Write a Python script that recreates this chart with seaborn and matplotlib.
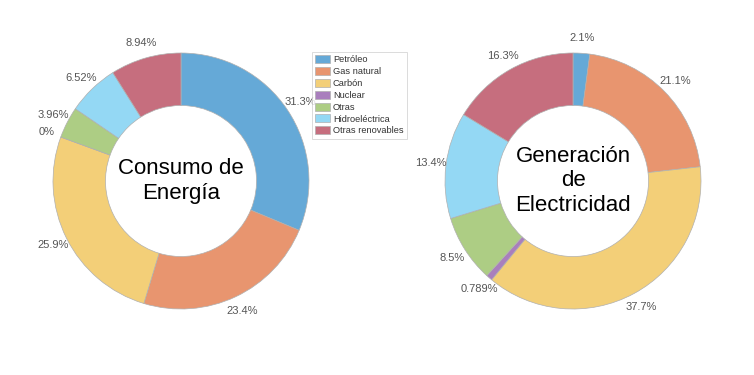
import matplotlib
matplotlib.use("Agg")
import numpy as np
import matplotlib.pyplot as plt
import seaborn as sns

# Data
fuentes = ["Petróleo", "Gas natural", "Carbón", "Nuclear", "Otras",
           "Hidroeléctrica", "Otras renovables"]
consumo = [31.3, 23.4, 25.9, 0.0, 3.96, 6.52, 8.94]
consumo_lbl = ["31.3%", "23.4%", "25.9%", "0%", "3.96%", "6.52%", "8.94%"]
generacion = [2.1, 21.1, 37.7, 0.789, 8.5, 13.4, 16.3]
generacion_lbl = ["2.1%", "21.1%", "37.7%", "0.789%", "8.5%", "13.4%", "16.3%"]
colores = ["#65a9d7", "#e8956f", "#f3cf78", "#a97fbd", "#adcd84", "#94d8f4", "#c66e7e"]

sns.set_style("white")
plt.rcParams["font.family"] = ["Liberation Sans", "DejaVu Sans"]

fig = plt.figure(figsize=(7.54, 3.75), dpi=100)


def donut(rect, values, labels, title):
    ax = fig.add_axes(rect)
    wedges, _ = ax.pie(values, colors=colores, startangle=90, counterclock=False,
                       wedgeprops=dict(width=0.41, edgecolor="#b0b0b0", linewidth=0.5))
    total = sum(values)
    acc = 0
    for v, lbl in zip(values, labels):
        mid = (acc + v / 2) / total * 2 * np.pi
        acc += v
        r = 1.12
        ax.text(r * np.sin(mid), r * np.cos(mid), lbl, ha="center", va="center",
                fontsize=8, color="#555555")
    ax.text(0, 0, title, ha="center", va="center", fontsize=16, color="black",
            linespacing=1.2)
    ax.set_xlim(-1, 1)
    ax.set_ylim(-1, 1)
    ax.set_aspect("equal")
    ax.axis("off")
    return wedges


W, H = 754, 375
R = 128
wl = donut([(181 - R) / W, (H - 181 - R) / H, 2 * R / W, 2 * R / H],
           consumo, consumo_lbl, "Consumo de\nEnergía")
donut([(573 - R) / W, (H - 181 - R) / H, 2 * R / W, 2 * R / H],
      generacion, generacion_lbl, "Generación\nde\nElectricidad")

leg = fig.legend(wl, fuentes, loc="upper left", bbox_to_anchor=(312 / W, 1 - 52 / H),
                 fontsize=6.7, frameon=True, fancybox=False, borderaxespad=0,
                 handlelength=1.6, handleheight=0.95, labelspacing=0.28,
                 handletextpad=0.3, borderpad=0.35)
leg.get_frame().set_edgecolor("#cccccc")
leg.get_frame().set_linewidth(0.6)
for t in leg.get_texts():
    t.set_color("#333333")

fig.savefig("out.png", dpi=100)
